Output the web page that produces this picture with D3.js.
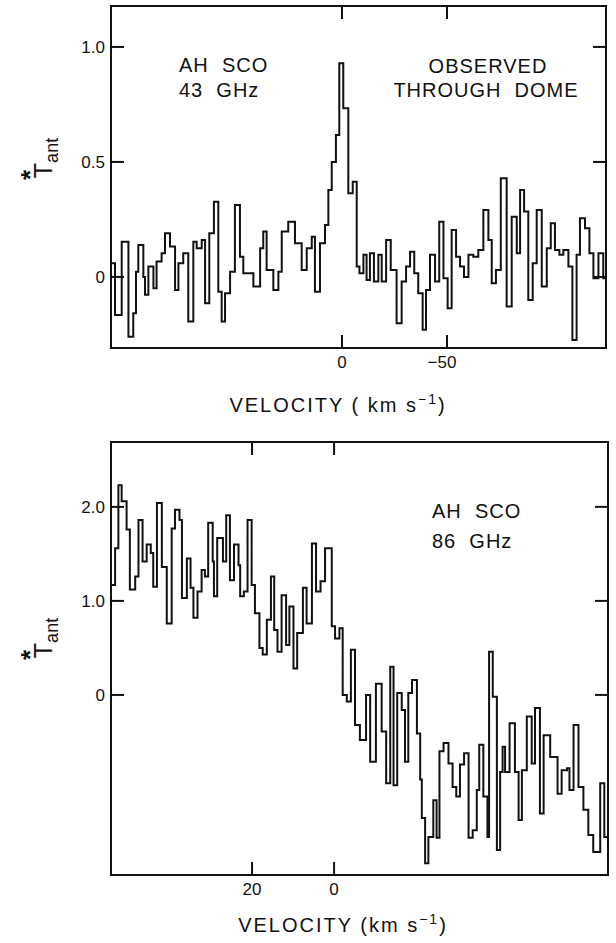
<!DOCTYPE html>
<html>
<head>
<meta charset="utf-8">
<script src="https://cdn.jsdelivr.net/npm/d3@7/dist/d3.min.js"></script>
<style>
  body { margin: 0; background: #fff; }
  text { font-family: 'Liberation Sans', 'DejaVu Sans', sans-serif; fill: #111; white-space: pre; }
</style>
</head>
<body>
<div id="chart"></div>
<script>
/* AH Sco spectra, 43 GHz (top) and 86 GHz (bottom) */

// 43 GHz: left edge velocity of each step (km/s) and antenna temperature
var vel43 = [110, 108.1, 104.9, 101.7, 99.4, 98.1, 97.0, 94.6, 93.8, 92.2, 89.8, 88.3, 85.9, 84.3,
  81.9, 79.5, 77.9, 75.6, 73.2, 70.8, 69.2, 66.8, 65.2, 63.2, 61.0, 58.9, 57.3, 55.7, 53.3, 51.0,
  48.6, 47.0, 42.2, 39.0, 37.5, 35.9, 32.7, 30.3, 28.7, 25.6, 22.4, 19.2, 16.8, 14.4, 12.9, 10.5,
  8.1, 6.5, 4.9, 2.9, 1.3, -0.6, -3.0, -5.1, -7.0, -8.3, -10.2, -11.7, -13.3, -15.2, -17.3, -18.9,
  -21.0, -23.2, -26.0, -28.4, -30.5, -32.4, -34.4, -36.3, -38.4, -40.0, -41.9, -44.3, -46.3, -48.3,
  -50.3, -52.2, -54.3, -56.2, -58.1, -60.2, -62.5, -64.9, -67.3, -69.7, -71.3, -73.3, -75.6, -78.4,
  -80.8, -83.2, -84.8, -86.7, -88.7, -90.8, -92.7, -95.1, -97.5, -99.4, -101.4, -103.5, -105.4,
  -107.8, -109.7, -111.7, -113.3, -115.7, -117.8, -119.7, -122.1, -124.4, -125.7];
var tant43 = [0.06, -0.165, 0.153, -0.26, -0.158, 0.023, 0.139, 0.0, -0.078, 0.045, -0.049, 0.067,
  0.103, 0.19, 0.132, -0.057, 0.06, 0.103, -0.194, 0.153, 0.125, 0.161, -0.114, 0.19, 0.327, -0.064,
  -0.194, -0.071, 0.023, 0.313, 0.088, 0.016, -0.042, 0.125, 0.197, 0.03, -0.057, 0.023, 0.197, 0.24,
  0.146, 0.03, 0.125, 0.175, -0.064, 0.146, 0.226, 0.378, 0.5, 0.617, 0.929, 0.733, 0.364, 0.414,
  0.045, 0.016, 0.096, -0.013, 0.103, -0.02, 0.096, -0.02, 0.161, 0.03, -0.201, -0.02, 0.045, 0.11,
  0.016, -0.071, -0.23, -0.057, 0.096, -0.02, 0.24, -0.006, -0.136, 0.204, 0.088, 0.045, 0.0, 0.096,
  0.088, 0.117, 0.291, 0.161, -0.028, 0.03, 0.429, -0.129, 0.262, 0.103, 0.378, 0.284, -0.1, 0.06,
  0.291, -0.042, 0.125, 0.233, 0.117, 0.096, 0.117, 0.045, -0.274, 0.096, 0.255, 0.212, 0.103,
  -0.006, 0.103, -0.006, -0.006];

// 86 GHz
var vel86 = [54.2, 53.4, 52.6, 51.8, 50.6, 49.8, 48.5, 47.7, 46.7, 45.7, 44.7, 44.1, 43.2, 42.0,
  40.8, 39.6, 38.8, 37.7, 37.1, 35.9, 35.0, 34.3, 33.3, 32.3, 31.5, 30.7, 29.6, 29.3, 28.5, 27.1,
  26.3, 25.4, 24.4, 23.3, 22.9, 22.0, 21.1, 20.1, 19.3, 18.2, 17.4, 16.4, 15.4, 14.6, 13.8, 12.8,
  11.7, 10.9, 9.9, 9.0, 7.6, 6.7, 5.4, 4.4, 3.3, 2.2, 0.56, -0.24, -1.3, -2.1, -3.1, -4.1, -5.1,
  -6.3, -7.8, -8.8, -10.2, -11.6, -12.7, -13.7, -14.5, -15.4, -16.5, -17.3, -18.1, -19.0, -20.2,
  -21.0, -21.4, -22.2, -23.0, -24.2, -25.0, -25.7, -26.7, -27.9, -28.9, -29.8, -30.7, -31.7, -32.8,
  -33.8, -34.8, -35.4, -36.4, -37.4, -37.8, -38.7, -39.7, -40.5, -41.1, -41.7, -42.8, -44.1, -45.0,
  -45.8, -47.0, -48.2, -49.0, -50.2, -51.1, -52.7, -54.5, -55.5, -56.8, -57.4, -58.4, -59.6, -60.8,
  -62.0, -63.2, -64.9, -65.9, -66.8];
var tant86 = [1.17, 1.56, 2.23, 2.06, 1.76, 1.12, 1.26, 1.86, 1.42, 1.6, 1.51, 1.15, 2.04, 1.36,
  0.76, 1.77, 1.97, 1.86, 1.03, 1.45, 1.14, 0.82, 1.1, 1.33, 1.26, 1.83, 1.42, 1.05, 1.67, 1.42,
  1.91, 1.22, 1.6, 1.38, 1.05, 1.1, 1.86, 1.17, 0.87, 0.5, 0.43, 0.8, 1.26, 0.69, 0.46, 1.06, 0.53,
  0.94, 0.28, 0.66, 1.14, 0.76, 1.61, 1.1, 1.21, 1.56, 0.73, 0.6, 0.71, 0.0, -0.07, 0.48, -0.32,
  -0.48, 0.0, -0.71, 0.12, -0.39, -0.94, 0.3, -0.96, 0.02, -0.16, -0.71, 0.02, 0.16, -0.41, -0.9,
  -1.31, -1.79, -1.51, -1.12, -1.52, -0.6, -0.51, -0.73, -0.98, -1.08, -0.74, -0.62, -1.52, -1.44,
  -1.01, -0.53, -1.08, -1.51, 0.46, -0.02, -1.65, -0.82, -0.55, -0.82, -0.3, -0.82, -1.33, -0.8,
  -0.23, -0.73, -0.14, -1.26, -0.43, -0.66, -1.05, -0.8, -0.78, -1.01, -0.32, -0.98, -1.22, -1.49,
  -1.67, -0.94, -1.51, -1.51];

var yTicks43 = [0, 0.5, 1.0];
var yTickLabels43 = ['0', '0.5', '1.0'];
var xTicks43 = [0, -50];
var xTickLabels43 = ['0', '\u221250'];
var yTicks86 = [0, 1.0, 2.0];
var yTickLabels86 = ['0', '1.0', '2.0'];
var xTicks86 = [20, 0];
var xTickLabels86 = ['20', '0'];

var width = 616;
var height = 943;

var svg = d3.select('#chart').append('svg')
  .attr('width', width)
  .attr('height', height);

function panel(opt) {
  var g = svg.append('g');
  var x = d3.scaleLinear().domain(opt.xDomain).range([opt.left, opt.right]);
  var y = d3.scaleLinear().domain(opt.yDomain).range([opt.bottom, opt.top]);
  var tickLen = 13;

  var pts = opt.vel.map(function (v, i) { return [v, opt.tant[i]]; });
  var line = d3.line()
    .x(function (d) { return x(d[0]); })
    .y(function (d) { return y(d[1]); })
    .curve(d3.curveStepAfter);

  g.append('path')
    .datum(pts)
    .attr('d', line)
    .attr('fill', 'none')
    .attr('stroke', '#111')
    .attr('stroke-width', 2)
    .attr('stroke-linejoin', 'miter');

  // frame
  g.append('rect')
    .attr('x', opt.left)
    .attr('y', opt.top)
    .attr('width', opt.right - opt.left)
    .attr('height', opt.bottom - opt.top)
    .attr('fill', 'none')
    .attr('stroke', '#111')
    .attr('stroke-width', 2);

  // inward ticks, all four sides
  opt.yTicks.forEach(function (t, i) {
    g.append('line').attr('x1', opt.left).attr('x2', opt.left + tickLen)
      .attr('y1', y(t)).attr('y2', y(t)).attr('stroke', '#111').attr('stroke-width', 2);
    g.append('line').attr('x1', opt.right).attr('x2', opt.right - tickLen)
      .attr('y1', y(t)).attr('y2', y(t)).attr('stroke', '#111').attr('stroke-width', 2);
    g.append('text')
      .attr('x', opt.left - 6)
      .attr('y', y(t))
      .attr('dy', '0.36em')
      .attr('text-anchor', 'end')
      .style('font-size', '17px')
      .text(opt.yTickLabels[i]);
  });
  opt.xTicks.forEach(function (t, i) {
    g.append('line').attr('x1', x(t)).attr('x2', x(t))
      .attr('y1', opt.bottom).attr('y2', opt.bottom - tickLen).attr('stroke', '#111').attr('stroke-width', 2);
    g.append('line').attr('x1', x(t)).attr('x2', x(t))
      .attr('y1', opt.top).attr('y2', opt.top + tickLen).attr('stroke', '#111').attr('stroke-width', 2);
    g.append('text')
      .attr('x', x(t) - (t < 0 ? 5 : 0))
      .attr('y', opt.bottom + 20)
      .attr('text-anchor', 'middle')
      .style('font-size', '17px')
      .text(opt.xTickLabels[i]);
  });

  // x axis title
  var xt = g.append('text')
    .attr('x', opt.xTitleX)
    .attr('y', opt.xTitleY)
    .attr('text-anchor', 'middle')
    .style('font-size', '20px')
    .style('letter-spacing', '2px');
  xt.append('tspan').text(opt.xTitle);
  xt.append('tspan').attr('dy', -8).style('font-size', '14px').text('\u22121');
  xt.append('tspan').attr('dy', 8).text(')');

  // y axis title: T* with subscript ant, rotated
  var yt = g.append('g')
    .attr('transform', 'translate(' + opt.yTitleX + ',' + opt.yTitleY + ') rotate(-90)');
  var ytext = yt.append('text').attr('text-anchor', 'middle').style('font-size', '25px');
  ytext.append('tspan').text('T');
  ytext.append('tspan').attr('dy', 6).style('font-size', '18px').text('ant');
  yt.append('text')
    .attr('x', -17)
    .attr('y', -13)
    .attr('text-anchor', 'middle')
    .style('font-size', '26px')
    .style('font-weight', 'bold')
    .text('*');

  // annotations
  opt.notes.forEach(function (n) {
    g.append('text')
      .attr('x', n.x)
      .attr('y', n.y)
      .attr('text-anchor', n.anchor || 'start')
      .style('font-size', '20px')
      .style('letter-spacing', '1px')
      .text(n.text);
  });
}

panel({
  vel: vel43, tant: tant43,
  left: 111, right: 606, top: 6, bottom: 348,
  xDomain: [110, -125.7], yDomain: [-0.309, 1.178],
  yTicks: yTicks43, yTickLabels: yTickLabels43,
  xTicks: xTicks43, xTickLabels: xTickLabels43,
  xTitle: 'VELOCITY ( km s', xTitleX: 338, xTitleY: 412,
  yTitleX: 52, yTitleY: 158,
  notes: [
    { text: 'AH  SCO', x: 179, y: 72 },
    { text: '43  GHz', x: 179, y: 97 },
    { text: 'OBSERVED', x: 488, y: 73, anchor: 'middle' },
    { text: 'THROUGH  DOME', x: 486, y: 97, anchor: 'middle' }
  ]
});

panel({
  vel: vel86, tant: tant86,
  left: 111, right: 608, top: 442, bottom: 875,
  xDomain: [54.4, -66.8], yDomain: [-1.915, 2.69],
  yTicks: yTicks86, yTickLabels: yTickLabels86,
  xTicks: xTicks86, xTickLabels: xTickLabels86,
  xTitle: 'VELOCITY (km s', xTitleX: 343, xTitleY: 932,
  yTitleX: 52, yTitleY: 638,
  notes: [
    { text: 'AH  SCO', x: 432, y: 518 },
    { text: '86  GHz', x: 432, y: 548 }
  ]
});
</script>
</body>
</html>
